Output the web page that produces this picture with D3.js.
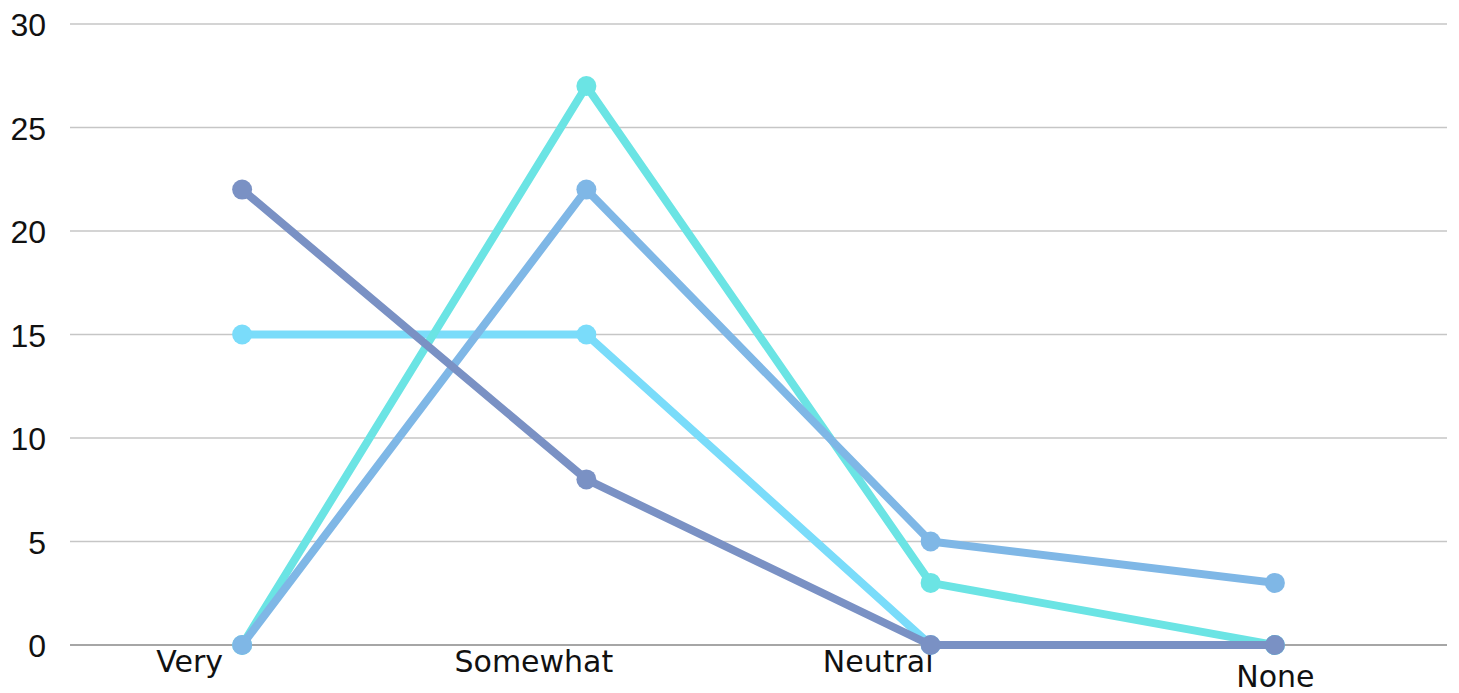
<!DOCTYPE html>
<html>
<head>
<meta charset="utf-8">
<script src="https://cdn.jsdelivr.net/npm/d3@7"></script>
<style>
  body { margin: 0; background: #fff; }
  .y-axis text { font-family: "Liberation Sans", Arial, sans-serif; font-size: 32px; fill: #111; }
  .x-axis text { font-family: "DejaVu Sans", sans-serif; font-size: 30px; fill: #111; }
</style>
</head>
<body>
<div id="chart"></div>
<script>
// categories and series
var categories = ["Very", "Somewhat", "Neutral", "None"];
var yTicks = [0, 5, 10, 15, 20, 25, 30];
var seriesLightCyan = [15, 15, 0, 0];
var seriesTurquoise = [0, 27, 3, 0];
var seriesBlue = [0, 22, 5, 3];
var seriesSlate = [22, 8, 0, 0];

var series = [
  { values: seriesLightCyan, color: "#7adcfa" },
  { values: seriesTurquoise, color: "#6be4e4" },
  { values: seriesBlue, color: "#7fb7e6" },
  { values: seriesSlate, color: "#7a91c4" }
];

var width = 1459, height = 693;
var margin = { top: 24, right: 12, bottom: 48, left: 70 };

var svg = d3.select("#chart").append("svg")
  .attr("width", width)
  .attr("height", height);

var x = d3.scalePoint()
  .domain(categories)
  .range([margin.left, width - margin.right])
  .padding(0.5);

var y = d3.scaleLinear()
  .domain([0, 30])
  .range([height - margin.bottom, margin.top]);

//Gridlines
svg.append("g")
  .selectAll("line")
  .data(yTicks)
  .enter().append("line")
    .attr("x1", margin.left)
    .attr("x2", width - margin.right)
    .attr("y1", function(d) { return y(d); })
    .attr("y2", function(d) { return y(d); })
    .attr("stroke", function(d) { return d === 0 ? "#888" : "#c6c6c6"; })
    .attr("stroke-width", 1.6);

//Y axis labels
var yAxis = svg.append("g")
  .attr("class", "y-axis")
  .attr("transform", "translate(46,0)")
  .call(d3.axisLeft(y).tickValues(yTicks).tickSize(0).tickPadding(0));
yAxis.select(".domain").remove();
yAxis.selectAll("text").attr("dy", "0.36em");

//X axis labels, the original places them a bit off the points
var xAxis = svg.append("g")
  .attr("class", "x-axis")
  .attr("transform", "translate(0," + (height - margin.bottom) + ")")
  .call(d3.axisBottom(x).tickSize(0).tickPadding(0));
xAxis.select(".domain").remove();
xAxis.selectAll("text")
  .attr("dy", null)
  .attr("y", function(d, i) { return i === categories.length - 1 ? 42 : 27; })
  .attr("x", function(d, i) { return i === categories.length - 1 ? 0 : -53; });

//Lines and dots
var line = d3.line()
  .x(function(d, i) { return x(categories[i]); })
  .y(function(d) { return y(d); });

var groups = svg.selectAll(".series")
  .data(series)
  .enter().append("g")
    .attr("class", "series");

groups.append("path")
  .attr("d", function(d) { return line(d.values); })
  .attr("fill", "none")
  .attr("stroke", function(d) { return d.color; })
  .attr("stroke-width", 8)
  .attr("stroke-linejoin", "round");

groups.each(function(s) {
  d3.select(this).selectAll("circle")
    .data(s.values)
    .enter().append("circle")
      .attr("cx", function(d, i) { return x(categories[i]); })
      .attr("cy", function(d) { return y(d); })
      .attr("r", 10)
      .attr("fill", s.color);
});
</script>
</body>
</html>
